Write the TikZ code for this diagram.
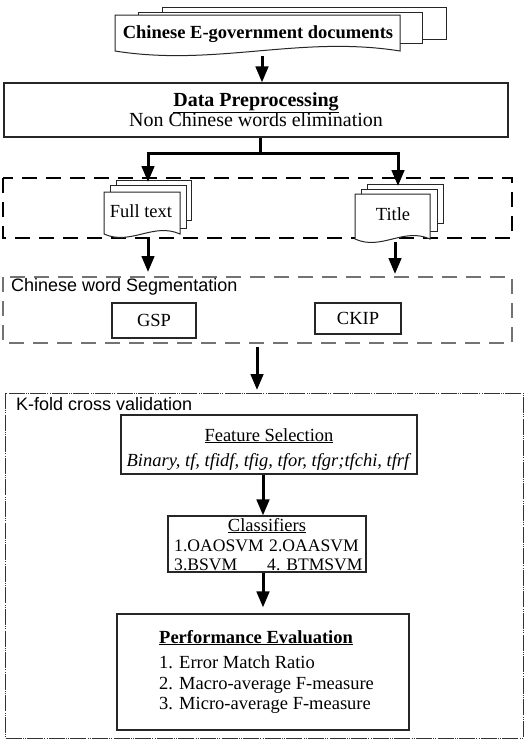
\documentclass[tikz,border=0pt]{standalone}
\usepackage{fontspec}
\setmainfont{Liberation Serif}
\setsansfont{Liberation Sans}
\usetikzlibrary{arrows.meta}
\newcommand\docfront[5]{% x1 y1 x2 y2 h
  \filldraw[sheet] (#1,#2) -- (#3,#2) -- (#3,#4)
    .. controls ({0.35*#1+0.65*#3},{#4-#5}) and ({0.65*#1+0.35*#3},{#4+#5}) .. (#1,#4) -- cycle;}
\newcommand\docback[4]{\filldraw[sheet] (#1,#2) rectangle (#3,#4);}
\begin{document}
\begin{tikzpicture}[x=1pt,y=-1pt,
  sheet/.style={draw=black!85, line width=1pt, fill=white},
  box/.style={draw=black!85, line width=1.1pt, fill=white, inner sep=0pt, align=center,
    font=\fontsize{18.5}{21}\selectfont},
  txt/.style={inner sep=0pt, font=\fontsize{18.5}{21}\selectfont, align=center},
  ctxt/.style={inner sep=0pt, anchor=base west, font=\fontsize{17.6}{21}\selectfont},
  lab/.style={inner sep=0pt, anchor=west, font=\sffamily\fontsize{18}{21}\selectfont},
  arr/.style={line width=3pt, -{Triangle[length=16pt,width=12.5pt]}},
  thickline/.style={line width=3pt},
  dashA/.style={draw=black, line width=1.1pt, dash pattern=on 15pt off 9pt},
  dashB/.style={draw=black!55, line width=1.1pt, dash pattern=on 15pt off 9pt},
  dashC/.style={draw=black!80, line width=1pt, dash pattern=on 16pt off 1.2pt on 1pt off 1.2pt on 1pt off 1.2pt}]
\useasboundingbox (0,0) rectangle (530,744);

% ---- input documents
\docback{162}{7}{446}{39}
\docback{138}{12}{422}{43}
\docfront{115}{15}{400}{51}{16}
\node[txt, font=\bfseries\fontsize{18.5}{21}\selectfont] (docs) at (258,34) {Chinese E-government documents};
\coordinate (docsout) at (262,56);

% ---- data preprocessing
\node[box, font=\fontsize{20}{21}\selectfont, minimum width=504pt, minimum height=54pt] (dp) at (256,110)
  {\textbf{\underline{Data Preprocessing}}\\[-1pt] Non Chinese words elimination};
\coordinate (split) at (260,153);

% ---- dashed box 1 with full text / title
\draw[dashA] (3,178) rectangle (512,238);
\docback{116}{180}{191}{220}
\docback{110}{185}{186}{228}
\docfront{104}{192}{180}{234}{12}
\node[txt] (full) at (141,211) {Full text};
\coordinate (fullin) at (148,182);
\coordinate (fullout) at (148,238);
\docback{367}{184}{443}{223}
\docback{361}{189}{437}{231}
\docfront{355}{194}{430}{239}{12}
\node[txt] (title) at (393,214) {Title};
\coordinate (titlein) at (398,186);
\coordinate (titleout) at (395,242);

% ---- segmentation
\draw[dashB] (3,277) rectangle (512,343);
\node[lab] (seglab) at (11,287) {Chinese word Segmentation};
\coordinate (segtop1) at (148,272);
\coordinate (segtop2) at (395,274);
\node[box, minimum width=84pt, minimum height=35pt] (gsp) at (154,320.5) {GSP};
\node[box, minimum width=86pt, minimum height=31pt] (ckip) at (358,318.5) {CKIP};
\coordinate (segout) at (257,347);

% ---- k-fold
\draw[dashC] (5,393) rectangle (523,738);
\node[lab] (kflab) at (16,404) {K-fold cross validation};
\coordinate (kftop) at (257,390);

\node[box, minimum width=296pt, minimum height=59pt] (fs) at (269,444.5) {};
\node[txt, anchor=base] (fs1) at (269,441) {\underline{Feature Selection}};
\node[txt, anchor=base] (fs2) at (269,466) {\textit{Binary, tf, tfidf, tfig, tfor, tfgr;tfchi, tfrf}};

\node[box, minimum width=198pt, minimum height=56pt] (cls) at (267,544) {};
\node[txt, anchor=base] (cls1) at (267,531) {\underline{Classifiers}};
\node[ctxt] (cls2) at (174,551) {1.OAOSVM};
\node[ctxt] (cls3) at (269,551) {2.OAASVM};
\node[ctxt] (cls4) at (174,570) {3.BSVM};
\node[ctxt] (cls5) at (267,570) {4. BTMSVM};

\node[box, minimum width=292pt, minimum height=116pt] (pe) at (263,672) {};
\node[txt, anchor=base west] (pe1) at (159,643) {\textbf{\underline{Performance Evaluation}}};
\node[txt, anchor=base west] (pe2) at (159,668) {1. Error Match Ratio};
\node[txt, anchor=base west] (pe3) at (159,689) {2. Macro-average F-measure};
\node[txt, anchor=base west] (pe4) at (159,709) {3. Micro-average F-measure};

% ---- connectors
\draw[arr] (docsout) -- (docsout |- dp.north);
\draw[thickline] (dp.south -| split) -- (split);
\draw[arr] (split) -| (fullin);
\draw[arr] (split) -| (titlein);
\draw[arr] (fullout) -- (segtop1);
\draw[arr] (titleout) -- (segtop2);
\draw[arr] (segout) -- (kftop);
\draw[arr] (fs.south -| 263,0) -- (cls.north -| 263,0);
\draw[arr] (cls.south -| 263,0) -- ([yshift=6pt]pe.north -| 263,0);
\end{tikzpicture}
\end{document}
